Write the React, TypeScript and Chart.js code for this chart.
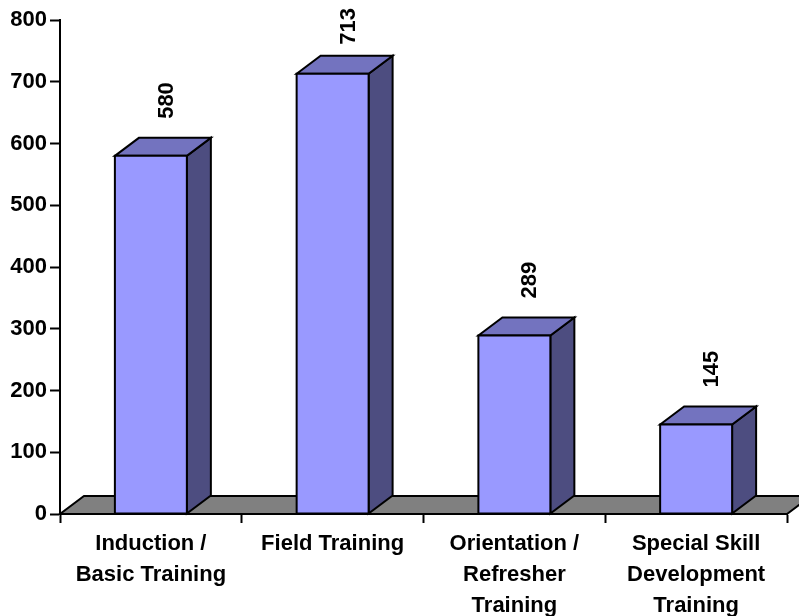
import { useEffect, useRef } from "react";
import { Chart, registerables } from "chart.js";

Chart.register(...registerables);

// Training programmes and number of participants
const categories: string[][] = [
  ["Induction /", "Basic Training"],
  ["Field Training"],
  ["Orientation /", "Refresher", "Training"],
  ["Special Skill", "Development", "Training"],
];
const participants: number[] = [580, 713, 289, 145];
const yMin = 0;
const yMax = 800;
const yStep = 100;

const FONT = "'Liberation Sans', Arial, sans-serif";
const FRONT = "#9999ff";
const TOP = "#7373bf";
const SIDE = "#4d4d80";
const FLOOR = "#808080";
const DEPTH_X = 24;
const DEPTH_Y = -18;

// Draws the gray floor, the extruded bars and their rotated value labels
const cubePlugin = {
  id: "cube3d",
  beforeDatasetsDraw(chart: any) {
    const { ctx, chartArea, scales } = chart;
    const base = scales.y.getPixelForValue(0);
    ctx.save();
    ctx.beginPath();
    ctx.moveTo(chartArea.left, base);
    ctx.lineTo(chartArea.right, base);
    ctx.lineTo(chartArea.right + DEPTH_X, base + DEPTH_Y);
    ctx.lineTo(chartArea.left + DEPTH_X, base + DEPTH_Y);
    ctx.closePath();
    ctx.fillStyle = FLOOR;
    ctx.fill();
    ctx.lineWidth = 2;
    ctx.strokeStyle = "#000";
    ctx.lineJoin = "miter";
    ctx.stroke();
    ctx.restore();
  },
  afterDatasetsDraw(chart: any) {
    const { ctx } = chart;
    const meta = chart.getDatasetMeta(0);
    const values = chart.data.datasets[0].data as number[];
    ctx.save();
    ctx.lineWidth = 2;
    ctx.strokeStyle = "#000";
    ctx.lineJoin = "miter";
    meta.data.forEach((bar: any, i: number) => {
      const { x, y, base, width } = bar.getProps(["x", "y", "base", "width"], true);
      const l = x - width / 2;
      const r = x + width / 2;

      // side face
      ctx.beginPath();
      ctx.moveTo(r, y);
      ctx.lineTo(r + DEPTH_X, y + DEPTH_Y);
      ctx.lineTo(r + DEPTH_X, base + DEPTH_Y);
      ctx.lineTo(r, base);
      ctx.closePath();
      ctx.fillStyle = SIDE;
      ctx.fill();
      ctx.stroke();

      // top face
      ctx.beginPath();
      ctx.moveTo(l, y);
      ctx.lineTo(l + DEPTH_X, y + DEPTH_Y);
      ctx.lineTo(r + DEPTH_X, y + DEPTH_Y);
      ctx.lineTo(r, y);
      ctx.closePath();
      ctx.fillStyle = TOP;
      ctx.fill();
      ctx.stroke();

      // front face
      ctx.beginPath();
      ctx.rect(l, y, width, base - y);
      ctx.fillStyle = FRONT;
      ctx.fill();
      ctx.stroke();

      // value label, reading bottom to top
      ctx.save();
      ctx.font = `bold 22px ${FONT}`;
      const text = String(values[i]);
      const tw = ctx.measureText(text).width;
      let start = y + DEPTH_Y - 19;
      if (start - tw < 8) start = 8 + tw;
      ctx.translate(x + DEPTH_X / 2 + 4, start);
      ctx.rotate(-Math.PI / 2);
      ctx.fillStyle = "#000";
      ctx.textAlign = "left";
      ctx.textBaseline = "middle";
      ctx.fillText(text, 0, 0);
      ctx.restore();
    });
    ctx.restore();
  },
};

export default function App() {
  const canvasRef = useRef<HTMLCanvasElement | null>(null);

  useEffect(() => {
    if (!canvasRef.current) return;
    const chart = new Chart(canvasRef.current, {
      type: "bar",
      data: {
        labels: categories,
        datasets: [
          {
            data: participants,
            backgroundColor: FRONT,
            borderWidth: 0,
            barPercentage: 0.396,
            categoryPercentage: 1,
          },
        ],
      },
      options: {
        animation: false,
        responsive: true,
        maintainAspectRatio: false,
        layout: { padding: { left: 0, top: 20, right: 12, bottom: 0 } },
        plugins: {
          legend: { display: false },
          tooltip: { enabled: false },
        },
        scales: {
          x: {
            offset: true,
            grid: {
              offset: true,
              drawOnChartArea: false,
              drawTicks: true,
              tickLength: 9,
              tickWidth: 2,
              tickColor: "#000",
            },
            border: { display: true, color: "#000", width: 2 },
            ticks: {
              color: "#000",
              font: { family: FONT, size: 22, weight: "bold", lineHeight: 1.4 },
              maxRotation: 0,
              minRotation: 0,
              autoSkip: false,
              padding: 6,
            },
            afterFit: (scale: any) => {
              scale.height = 102;
            },
          },
          y: {
            min: yMin,
            max: yMax,
            grid: {
              drawOnChartArea: false,
              drawTicks: true,
              tickLength: 10,
              tickWidth: 2,
              tickColor: "#000",
            },
            border: { display: true, color: "#000", width: 2 },
            ticks: {
              stepSize: yStep,
              color: "#000",
              font: { family: FONT, size: 22, weight: "bold" },
              padding: 3,
            },
            afterFit: (scale: any) => {
              scale.width = 60;
            },
          },
        },
      },
      plugins: [cubePlugin],
    });
    return () => chart.destroy();
  }, []);

  return (
    <div style={{ position: "fixed", left: 0, top: 0, width: 799, height: 616, background: "#fff" }}>
      <canvas ref={canvasRef} />
    </div>
  );
}
